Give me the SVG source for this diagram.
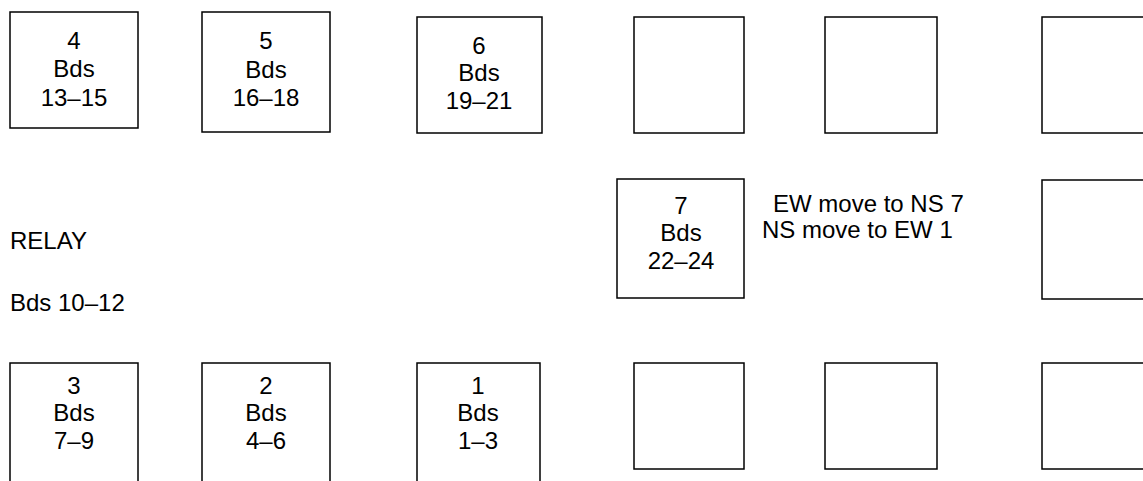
<svg xmlns="http://www.w3.org/2000/svg" width="1143" height="481" viewBox="0 0 1143 481">
<style>
.box{fill:#fff;stroke:#000;stroke-width:1.5}
text{font-family:"Liberation Sans",Arial,sans-serif;font-size:24px;fill:#000}
.c{text-anchor:middle}
</style>
<rect x="0" y="0" width="1143" height="481" fill="#fff"/>
<g id="table4"><rect class="box" x="10" y="12" width="128" height="116"/>
<text class="c" x="74" y="49">4</text><text class="c" x="74" y="77">Bds</text><text class="c" x="74" y="106">13–15</text></g>
<g id="table5"><rect class="box" x="202" y="12" width="128" height="120"/>
<text class="c" x="266" y="49">5</text><text class="c" x="266" y="78">Bds</text><text class="c" x="266" y="106">16–18</text></g>
<g id="table6"><rect class="box" x="417" y="17" width="125" height="116"/>
<text class="c" x="479" y="54">6</text><text class="c" x="479" y="81">Bds</text><text class="c" x="479" y="109">19–21</text></g>
<g id="top4"><rect class="box" x="634" y="17" width="110" height="116"/></g>
<g id="top5"><rect class="box" x="825" y="17" width="112" height="116"/></g>
<g id="top6"><rect class="box" x="1042" y="17" width="112" height="116"/></g>
<g id="table7"><rect class="box" x="617" y="179" width="127" height="119"/>
<text class="c" x="681" y="214">7</text><text class="c" x="681" y="241">Bds</text><text class="c" x="681" y="269">22–24</text></g>
<g id="note"><text x="773" y="212">EW move to NS 7</text><text x="762" y="238">NS move to EW 1</text></g>
<g id="mid6"><rect class="box" x="1042" y="180" width="112" height="119"/></g>
<g id="relay"><text x="10" y="249">RELAY</text><text x="10" y="311">Bds 10–12</text></g>
<g id="table3"><rect class="box" x="10" y="363" width="128" height="130"/>
<text class="c" x="74" y="394">3</text><text class="c" x="74" y="421">Bds</text><text class="c" x="74" y="449">7–9</text></g>
<g id="table2"><rect class="box" x="202" y="363" width="128" height="130"/>
<text class="c" x="266" y="394">2</text><text class="c" x="266" y="421">Bds</text><text class="c" x="266" y="449">4–6</text></g>
<g id="table1"><rect class="box" x="417" y="363" width="123" height="130"/>
<text class="c" x="478" y="394">1</text><text class="c" x="478" y="421">Bds</text><text class="c" x="478" y="449">1–3</text></g>
<g id="bot4"><rect class="box" x="634" y="363" width="110" height="106"/></g>
<g id="bot5"><rect class="box" x="825" y="363" width="112" height="106"/></g>
<g id="bot6"><rect class="box" x="1042" y="363" width="112" height="106"/></g>
<g id="connectors"/>
</svg>
